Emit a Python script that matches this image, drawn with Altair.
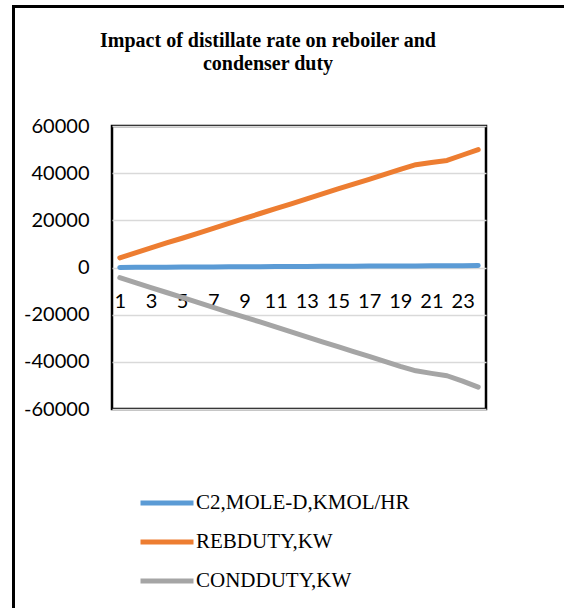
import altair as alt
import pandas as pd

categories = list(range(1, 25))
c2_mole_d = [50, 85, 120, 150, 185, 220, 250, 285, 320, 350, 385, 420,
             450, 485, 520, 550, 585, 620, 650, 685, 720, 750, 785, 820]
reb_duty = [4100, 6200, 8300, 10400, 12400, 14500, 16600, 18700, 20800, 22900, 25000, 27000,
            29100, 31200, 33300, 35400, 37400, 39500, 41600, 43600, 44500, 45400, 47700, 50000]
cond_duty = [-4300, -6400, -8500, -10600, -12700, -14800, -16900, -19000, -21000, -23100, -25200, -27300,
             -29400, -31500, -33600, -35700, -37700, -39800, -41900, -43800, -44900, -45900, -48200, -50700]
series_names = ["C2,MOLE-D,KMOL/HR", "REBDUTY,KW", "CONDDUTY,KW"]
series_colors = ["#5B9BD5", "#ED7D31", "#A5A5A5"]
y_ticks = [-60000, -40000, -20000, 0, 20000, 40000, 60000]
x_ticks = [1, 3, 5, 7, 9, 11, 13, 15, 17, 19, 21, 23]
title_lines = ["Impact of distillate rate on reboiler and", "condenser duty"]

rows = []
for name, vals in zip(series_names, [c2_mole_d, reb_duty, cond_duty]):
    for c, v in zip(categories, vals):
        rows.append({"x": c, "value": v, "series": name})
df = pd.DataFrame(rows)

W, H = 374, 283

lines = alt.Chart(df).mark_line(strokeWidth=5, strokeCap="round", strokeJoin="round").encode(
    x=alt.X("x:O", scale=alt.Scale(type="point", padding=0.5),
            axis=alt.Axis(values=x_ticks, labelAngle=0, title=None, ticks=False, tickSize=0,
                          domain=False, grid=False, offset=-141.5, labelPadding=24,
                          labelFont="Lato", labelFontSize=20, labelColor="#000000",
                          labelOverlap=False)),
    y=alt.Y("value:Q", scale=alt.Scale(domain=[-60000, 60000], nice=False, zero=False),
            axis=alt.Axis(values=y_ticks, title=None, ticks=False, tickSize=0, domain=False,
                          grid=True, gridColor="#d9d9d9", gridWidth=1.5,
                          labelExpr="'' + datum.value", labelPadding=23,
                          labelFont="Lato", labelFontSize=20, labelColor="#000000")),
    color=alt.Color("series:N", scale=alt.Scale(domain=series_names, range=series_colors),
                    legend=alt.Legend(title=None, orient="none", legendX=26, legendY=348,
                                      direction="vertical", symbolType="stroke",
                                      symbolStrokeWidth=5, symbolSize=2809,
                                      labelFont="Liberation Serif", labelFontSize=21,
                                      labelColor="#000000", rowPadding=0, labelOffset=0,
                                      labelLimit=500)),
    order=alt.Order("x:O"),
)

one = pd.DataFrame({"a": [0]})
frame = alt.Chart(one).mark_rule(color="#000000", strokeWidth=3).encode(
    x=alt.value(-98.5), y=alt.value(-120), y2=alt.value(500)
)
frame_top = alt.Chart(one).mark_rule(color="#000000", strokeWidth=3).encode(
    x=alt.value(-100), x2=alt.value(470), y=alt.value(-119.5)
)
title1 = alt.Chart(one).mark_text(
    text=title_lines[0], font="Liberation Serif", fontSize=20, fontWeight="bold",
    color="#000000", align="center", baseline="alphabetic"
).encode(x=alt.value(156), y=alt.value(-79.5))
title2 = alt.Chart(one).mark_text(
    text=title_lines[1], font="Liberation Serif", fontSize=20, fontWeight="bold",
    color="#000000", align="center", baseline="alphabetic"
).encode(x=alt.value(156), y=alt.value(-56.5))

chart = alt.layer(frame, frame_top, title1, title2, lines).properties(
    width=W, height=H,
    autosize=alt.AutoSizeParams(type="none"),
    padding={"left": 112, "top": 126, "right": 78, "bottom": 199},
    background="#ffffff",
).configure_view(stroke="#000000", strokeWidth=2.5)

chart.save("out.html", embed_options={"renderer": "svg", "actions": False})
